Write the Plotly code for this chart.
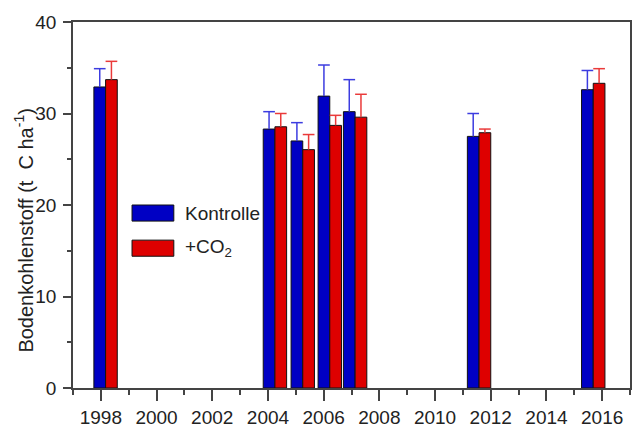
import plotly.graph_objects as go

# Sampling dates (decimal years) and soil carbon stocks
dates = [1998.17, 2004.25, 2005.25, 2006.22, 2007.13, 2011.58, 2015.68]
kontrolle = [32.9, 28.3, 27.0, 31.9, 30.2, 27.5, 32.6]
kontrolle_err = [2.0, 1.9, 2.0, 3.4, 3.5, 2.5, 2.1]
co2 = [33.7, 28.55, 26.05, 28.7, 29.6, 27.9, 33.3]
co2_err = [2.0, 1.45, 1.65, 1.1, 2.5, 0.4, 1.6]

tick_years = list(range(1998, 2017, 2))
y_ticks = [0, 10, 20, 30, 40]

BAR_W = 0.42
BLUE, BLUE_ERR = "#0000c4", "#3c3ce0"
RED, RED_ERR = "#de0000", "#ea3a3a"
FONT = "Liberation Sans, Arial, sans-serif"


def whiskers(xs, ys, errs, offset):
    """Upward error whiskers with a cap, as one line trace."""
    wx, wy = [], []
    for x, y, e in zip(xs, ys, errs):
        xc = x + offset
        top = y + e
        wx += [xc, xc, None, xc - BAR_W / 2, xc + BAR_W / 2, None]
        wy += [y, top, None, top, top, None]
    return wx, wy


fig = go.Figure()

fig.add_trace(go.Bar(x=dates, y=kontrolle, width=BAR_W, offset=-BAR_W,
                     marker=dict(color=BLUE, line=dict(color="#111", width=1)),
                     name="Kontrolle", showlegend=False))
fig.add_trace(go.Bar(x=dates, y=co2, width=BAR_W, offset=0,
                     marker=dict(color=RED, line=dict(color="#111", width=1)),
                     name="+CO2", showlegend=False))

bx, by = whiskers(dates, kontrolle, kontrolle_err, -BAR_W / 2)
fig.add_trace(go.Scatter(x=bx, y=by, mode="lines", line=dict(color=BLUE_ERR, width=1.5),
                         showlegend=False, hoverinfo="skip"))
rx, ry = whiskers(dates, co2, co2_err, BAR_W / 2)
fig.add_trace(go.Scatter(x=rx, y=ry, mode="lines", line=dict(color=RED_ERR, width=1.5),
                         showlegend=False, hoverinfo="skip"))

# Legend: swatches and labels
legend_items = [("Kontrolle", BLUE, 0.478), ("+CO<sub>2</sub>", RED, 0.382)]
for label, color, yc in legend_items:
    fig.add_shape(type="rect", xref="paper", yref="paper",
                  x0=0.106, x1=0.181, y0=yc - 0.022, y1=yc + 0.022,
                  fillcolor=color, line=dict(color="#111", width=1))
    fig.add_annotation(text=label, xref="paper", yref="paper", x=0.198, y=yc,
                       xanchor="left", yanchor="middle", showarrow=False,
                       font=dict(family=FONT, size=19, color="#222"))

# Y-axis title
fig.add_annotation(text="Bodenkohlenstoff (t  C ha<sup>-1</sup>)", xref="paper", yref="paper",
                   x=-0.088, y=0.43, xanchor="center", yanchor="middle", textangle=-90,
                   showarrow=False, font=dict(family=FONT, size=20, color="#222"))

axis_common = dict(showline=True, linecolor="#444", linewidth=1.5, mirror=True,
                   ticks="outside", tickcolor="#444", tickwidth=1.5,
                   showgrid=False, zeroline=False, automargin=False,
                   tickfont=dict(family=FONT, size=19, color="#222"))

fig.update_layout(
    width=632, height=428,
    margin=dict(l=73, r=2, t=22, b=40),
    paper_bgcolor="white", plot_bgcolor="white",
    barmode="overlay",
    xaxis=dict(range=[1997, 2017], tickvals=tick_years, ticklen=11, ticklabelstandoff=0,
               minor=dict(ticks="outside", dtick=1, tick0=1997, ticklen=5,
                          tickcolor="#444", tickwidth=1.5),
               **axis_common),
    yaxis=dict(range=[0, 40], tickvals=y_ticks, ticklen=8, ticklabelstandoff=3,
               minor=dict(ticks="outside", dtick=5, tick0=0, ticklen=4,
                          tickcolor="#444", tickwidth=1.5),
               **axis_common),
)

fig.write_html("out.html")
